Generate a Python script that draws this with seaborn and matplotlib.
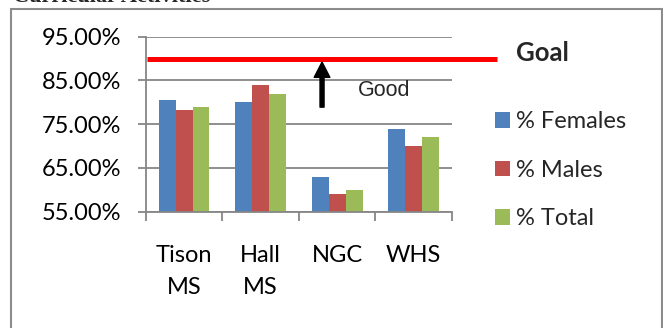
import matplotlib
matplotlib.use("Agg")
import matplotlib.pyplot as plt
import matplotlib.patches as mpatches
from matplotlib.ticker import PercentFormatter
import seaborn as sns
import pandas as pd

# Participation in curricular activities by school
schools = ["Tison\nMS", "Hall\nMS", "NGC", "WHS"]
series = ["% Females", "% Males", "% Total"]
females = [80.5, 80.0, 63.0, 74.0]
males = [78.3, 84.0, 59.0, 70.0]
total = [79.0, 82.0, 60.0, 72.0]
goal = 90.0
y_ticks = [55, 65, 75, 85, 95]
colors = ["#4f81bd", "#c0504d", "#9bbb59"]

df = pd.DataFrame({
    "school": schools * 3,
    "group": [s for s in series for _ in schools],
    "value": females + males + total,
})

sns.set_theme(style="white")
plt.rcParams["font.family"] = ["Lato", "DejaVu Sans"]

GRAY = "#868686"
fig = plt.figure(figsize=(6.63, 3.28), dpi=100)
ax = fig.add_axes([0.2198, 0.3546, 0.462, 0.5335])

sns.barplot(data=df, x="school", y="value", hue="group", palette=colors,
            width=0.665, saturation=1, linewidth=0, ax=ax)

ax.set_ylim(55, 95)
ax.set_xlim(-0.5, len(schools) - 0.5)
ax.set_xlabel("")
ax.set_ylabel("")

# axes styling
for side in ("top", "right"):
    ax.spines[side].set_visible(False)
for side in ("left", "bottom"):
    ax.spines[side].set_color(GRAY)
    ax.spines[side].set_linewidth(1.3)
ax.set_axisbelow(True)
ax.yaxis.grid(True, color=GRAY, linewidth=1.3)

ax.set_yticks(y_ticks)
ax.yaxis.set_major_formatter(PercentFormatter(decimals=2))
ax.tick_params(axis="y", direction="out", length=5.8, width=1.3, color=GRAY,
               labelsize=17, labelcolor="black", pad=12, left=True)

ax.set_xticks([i - 0.5 for i in range(len(schools) + 1)])
ax.set_xticklabels([""] * (len(schools) + 1))
ax.set_xticks(range(len(schools)), minor=True)
ax.set_xticklabels(schools, minor=True, linespacing=1.62)
ax.tick_params(axis="x", which="major", direction="out", length=6.5, width=1.3,
               color=GRAY, bottom=True)
ax.tick_params(axis="x", which="minor", length=0, labelsize=17,
               labelcolor="black", pad=24)

# goal line extending past the plot area
ax.plot([0.005, 1.147], [goal, goal], transform=ax.get_yaxis_transform(),
        color="#ff0000", lw=3.6, clip_on=False, solid_capstyle="butt")
ax.text(1.209, goal + 1.3, "Goal", transform=ax.get_yaxis_transform(),
        fontsize=18.5, fontweight="bold", va="center", ha="left")

# "Good" direction arrow
ax.annotate("", xy=(0.5756, 89.2), xytext=(0.5756, 78.9),
            xycoords=("axes fraction", "data"),
            arrowprops=dict(width=2.9, headwidth=11.3, headlength=11,
                            color="black", shrink=0))
ax.text(0.693, 82.8, "Good", transform=ax.get_yaxis_transform(),
        fontsize=15.5, family=["Liberation Sans"], va="center", ha="left")

handles, labels = ax.get_legend_handles_labels()
ax.legend(handles, labels, loc="upper left", frameon=False,
          bbox_to_anchor=(495 / 663, 1 - 111 / 328),
          bbox_transform=fig.transFigure, fontsize=17,
          handlelength=0.64, handleheight=0.64, handletextpad=0.25,
          labelspacing=1.17, borderpad=0, borderaxespad=0)

# title (partly above the visible area) and surrounding frame
fig.text(13 / 663, 1 - 2.5 / 328, "Curricular Activities",
         family=["Liberation Serif"], fontweight="bold", fontsize=16,
         va="baseline", ha="left")
fig.patches.append(mpatches.Rectangle((11 / 663, -0.05), 651 / 663,
                                      1.05 - 9 / 328, fill=False,
                                      edgecolor="#8c8c8c", lw=1.5,
                                      transform=fig.transFigure))

fig.savefig("out.png", dpi=100)
